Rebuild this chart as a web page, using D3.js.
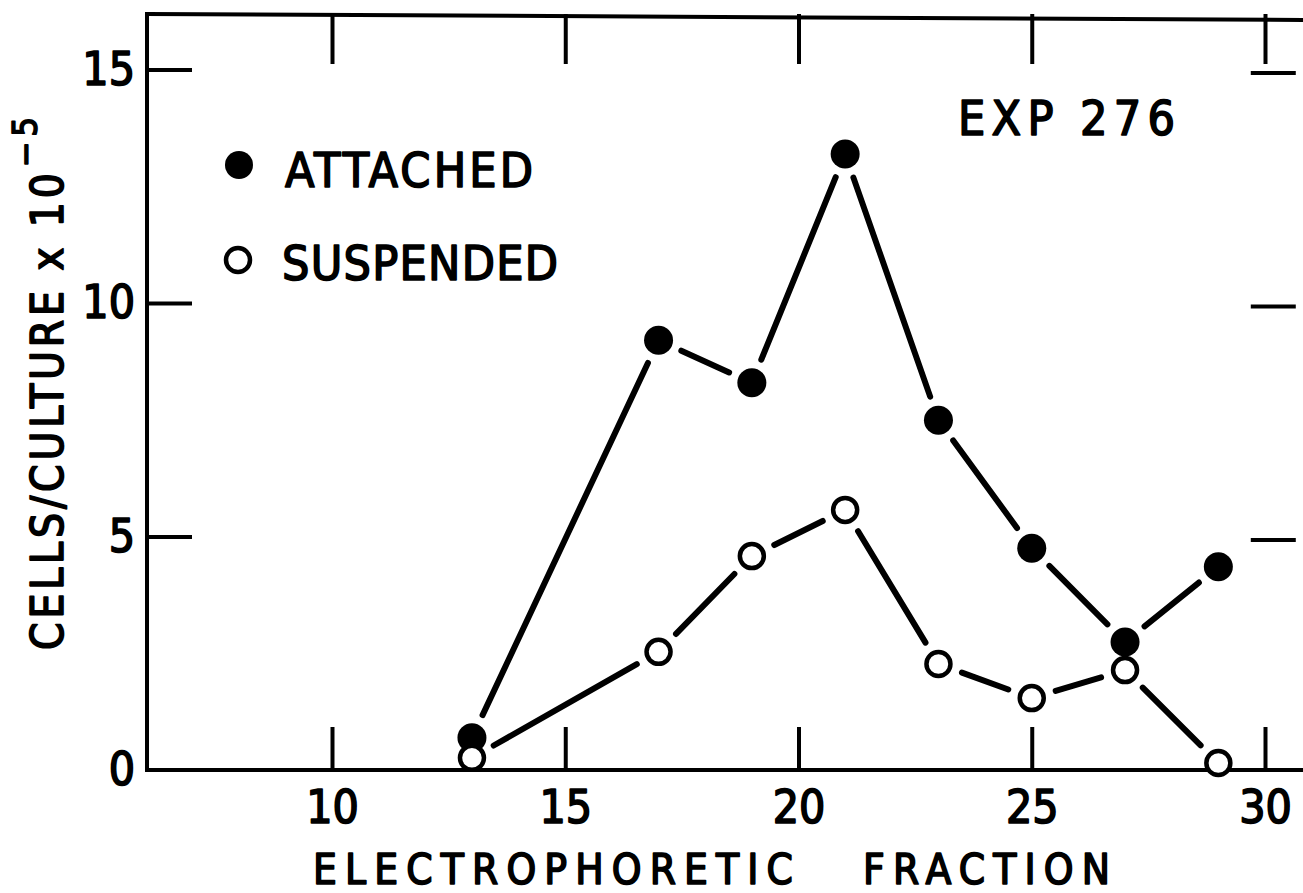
<!DOCTYPE html>
<html>
<head>
<meta charset="utf-8">
<script src="https://cdn.jsdelivr.net/npm/d3@7/dist/d3.min.js"></script>
<style>
  body { margin: 0; background: #fff; }
  svg { display: block; }
  text { font-family: "Liberation Sans Narrow", "DejaVu Sans Condensed", "Liberation Sans", Arial, sans-serif; fill: #000; stroke: #000; stroke-width: 1.6px; stroke-linejoin: round; }
</style>
</head>
<body>
<svg id="canvas"></svg>
<script>
// data
let fractions = [13, 17, 19, 21, 23, 25, 27, 29];
let attached = [0.69, 9.2, 8.29, 13.19, 7.49, 4.75, 2.74, 4.35];
let suspended = [0.26, 2.53, 4.58, 5.57, 2.27, 1.54, 2.14, 0.15];
let xTicks = [10, 15, 20, 25, 30];
let yTicks = [0, 5, 10, 15];
let legendLabels = ['ATTACHED', 'SUSPENDED'];

let width = 1303;
let height = 893;

let canvas = d3.select('#canvas');
canvas.attr('width', width);
canvas.attr('height', height);

let xScale = d3.scaleLinear().
domain([10, 30]).
range([332, 1265]);

let yScale = d3.scaleLinear().
domain([0, 15]).
range([770, 69.5]);

let frameLeft = 147;
let frameTop = 14;
let frameBottom = 770;
let frameRight = xScale(30.66);

let ink = '#000';

let drawFrame = () => {
  let frame = canvas.append('g').
  attr('fill', 'none').
  attr('stroke', ink).
  attr('stroke-width', 4).
  attr('stroke-linecap', 'square');

  frame.append('line').attr('x1', frameLeft).attr('y1', frameTop).attr('x2', width + 10).attr('y2', frameTop + 6);
  frame.append('line').attr('x1', frameLeft).attr('y1', frameTop).attr('x2', frameLeft).attr('y2', frameBottom);
  frame.append('line').attr('x1', frameLeft).attr('y1', frameBottom).attr('x2', width + 10).attr('y2', frameBottom);
};

let drawAxes = () => {
  let yAxis = d3.axisLeft(yScale).
  tickValues(yTicks).
  tickSize(-45).
  tickPadding(12).
  tickFormat(d3.format('d'));

  let xAxis = d3.axisBottom(xScale).
  tickValues(xTicks).
  tickSize(-43).
  tickPadding(20).
  tickFormat(d3.format('d'));

  let topAxis = d3.axisTop(xScale).
  tickValues(xTicks).
  tickSize(-50).
  tickFormat('');

  let rightAxis = d3.axisRight(yScale).
  tickValues([5, 10, 15]).
  tickSize(-45).
  tickFormat('');

  let gy = canvas.append('g').
  attr('id', 'y-axis').
  attr('transform', 'translate(' + frameLeft + ', 0)').
  call(yAxis);

  let gx = canvas.append('g').
  attr('id', 'x-axis').
  attr('transform', 'translate(0, ' + frameBottom + ')').
  call(xAxis);

  let gt = canvas.append('g').
  attr('transform', 'translate(0, ' + frameTop + ')').
  call(topAxis);

  let gr = canvas.append('g').
  attr('transform', 'translate(' + frameRight + ', 3)').
  call(rightAxis);

  [gy, gx, gt, gr].forEach(g => {
    g.select('.domain').remove();
    g.selectAll('.tick line').
    attr('stroke', ink).
    attr('stroke-width', 4);
    g.selectAll('.tick text').
    attr('font-size', 46).
    attr('font-family', null);
  });
  gy.selectAll('.tick').filter(d => d === 0).select('line').remove();
};

// segments are cut short so they stop before the markers, as in the original
let drawSeries = (values, filled) => {
  let pts = fractions.map((f, i) => [xScale(f), yScale(values[i])]);
  let gap = 25;
  let segs = [];
  for (let i = 0; i < pts.length - 1; i++) {
    let [x1, y1] = pts[i];
    let [x2, y2] = pts[i + 1];
    let len = Math.hypot(x2 - x1, y2 - y1);
    let ux = (x2 - x1) / len;
    let uy = (y2 - y1) / len;
    segs.push([x1 + ux * gap, y1 + uy * gap, x2 - ux * gap, y2 - uy * gap]);
  }

  canvas.append('g').
  selectAll('line').
  data(segs).
  enter().
  append('line').
  attr('x1', d => d[0]).
  attr('y1', d => d[1]).
  attr('x2', d => d[2]).
  attr('y2', d => d[3]).
  attr('stroke', ink).
  attr('stroke-width', 6).
  attr('stroke-linecap', 'round');

  canvas.append('g').
  selectAll('circle').
  data(pts).
  enter().
  append('circle').
  attr('cx', d => d[0]).
  attr('cy', d => d[1]).
  attr('r', filled ? 14.5 : 12).
  attr('fill', filled ? ink : '#fff').
  attr('stroke', ink).
  attr('stroke-width', filled ? 0 : 4.5);
};

let drawText = () => {
  // legend
  canvas.append('circle').attr('cx', 239).attr('cy', 165).attr('r', 14).attr('fill', ink);
  canvas.append('circle').attr('cx', 238).attr('cy', 260).attr('r', 12).
  attr('fill', '#fff').attr('stroke', ink).attr('stroke-width', 4.5);

  canvas.append('text').attr('x', 285).attr('y', 187).attr('font-size', 48).
  attr('textLength', 248).attr('lengthAdjust', 'spacing').text(legendLabels[0]);
  canvas.append('text').attr('x', 282).attr('y', 280).attr('font-size', 48).
  attr('textLength', 276).attr('lengthAdjust', 'spacing').text(legendLabels[1]);

  canvas.append('text').attr('x', 958).attr('y', 135).attr('font-size', 48).
  attr('textLength', 217).attr('lengthAdjust', 'spacing').text('EXP 276');

  // x title
  canvas.append('text').attr('x', 313).attr('y', 884).attr('font-size', 42).
  attr('textLength', 480).attr('lengthAdjust', 'spacing').text('ELECTROPHORETIC');
  canvas.append('text').attr('x', 863).attr('y', 884).attr('font-size', 42).
  attr('textLength', 247).attr('lengthAdjust', 'spacing').text('FRACTION');

  // y title
  let yt = canvas.append('g').attr('transform', 'rotate(-90)');
  yt.append('text').attr('x', -650).attr('y', 63).attr('font-size', 44).
  attr('textLength', 477).attr('lengthAdjust', 'spacing').text('CELLS/CULTURE x 10');
  yt.append('text').attr('x', -167).attr('y', 37).attr('font-size', 34).
  attr('textLength', 50).attr('lengthAdjust', 'spacing').text('\u22125');
};

drawFrame();
drawAxes();
drawSeries(attached, true);
drawSeries(suspended, false);
drawText();
</script>
</body>
</html>
